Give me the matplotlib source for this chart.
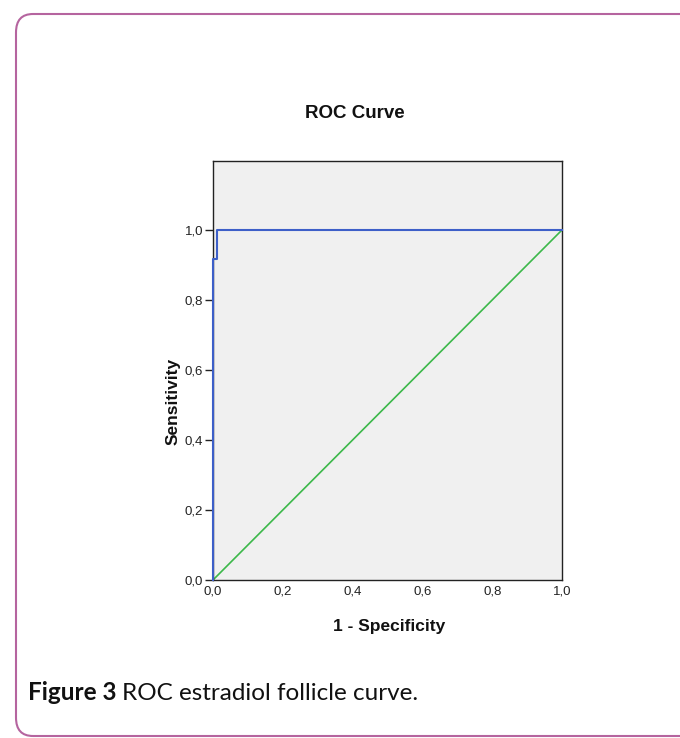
import matplotlib.pyplot as plt
from matplotlib.patches import FancyBboxPatch

# ROC points
fpr = [0.0, 0.0, 0.012, 0.012, 1.0]
tpr = [0.0, 0.917, 0.917, 1.0, 1.0]
ref_line = [0.0, 1.0]
ticks = [0.0, 0.2, 0.4, 0.6, 0.8, 1.0]
tick_labels = ["0,0", "0,2", "0,4", "0,6", "0,8", "1,0"]

W, H = 680, 738
fig = plt.figure(figsize=(W / 100, H / 100), dpi=100)

# card border
card = FancyBboxPatch((16 / W, 1 - 736 / H), 700 / W, (736 - 14) / H,
                      boxstyle="round,pad=0,rounding_size=0.025",
                      transform=fig.transFigure, fill=False,
                      edgecolor="#b5649f", linewidth=1.5, clip_on=False)
fig.patches.append(card)

# axes placed to match the pixel box
ax = fig.add_axes([213 / W, 1 - 580 / H, (562 - 213) / W, (580 - 161) / H])
ax.set_facecolor("#f0f0f0")
ax.plot(ref_line, ref_line, color="#3cb84a", linewidth=1.2, clip_on=False)
ax.plot(fpr, tpr, color="#3d5fc8", linewidth=1.5, clip_on=False, zorder=3)

ax.set_xlim(0, 1)
ax.set_ylim(0, 1.197)
ax.set_xticks(ticks)
ax.set_xticklabels(tick_labels)
ax.set_yticks(ticks)
ax.set_yticklabels(tick_labels)
ax.tick_params(axis="both", labelsize=9.5, length=6, width=1, color="#222222",
               labelcolor="#222222", pad=1)
ax.tick_params(axis="x", length=0, pad=4)
for s in ax.spines.values():
    s.set_color("#222222")
    s.set_linewidth(1)
for lbl in ax.get_xticklabels() + ax.get_yticklabels():
    lbl.set_family("Liberation Sans")

fig.text(355 / W, 1 - 113 / H, "ROC Curve", ha="center", va="center",
         fontsize=13.5, fontweight="bold", family="Liberation Sans",
         color="#111111")
fig.text(389 / W, 1 - 627 / H, "1 - Specificity", ha="center", va="center",
         fontsize=12.5, fontweight="bold", family="Liberation Sans",
         color="#111111")
fig.text(173 / W, 1 - 401 / H, "Sensitivity", ha="center", va="center",
         rotation=90, fontsize=12.5, fontweight="bold",
         family="Liberation Sans", color="#111111")

# caption
t = fig.text(28 / W, 1 - 693 / H, "Figure 3", ha="left", va="center",
             fontsize=17.5, fontweight="bold", family="Lato", color="#111111")
fig.canvas.draw()
bb = t.get_window_extent()
fig.text((bb.x1 + 6) / W, 1 - 693 / H, "ROC estradiol follicle curve.",
         ha="left", va="center", fontsize=17.5, family="Lato", color="#111111")

fig.savefig("out.png", dpi=100)
